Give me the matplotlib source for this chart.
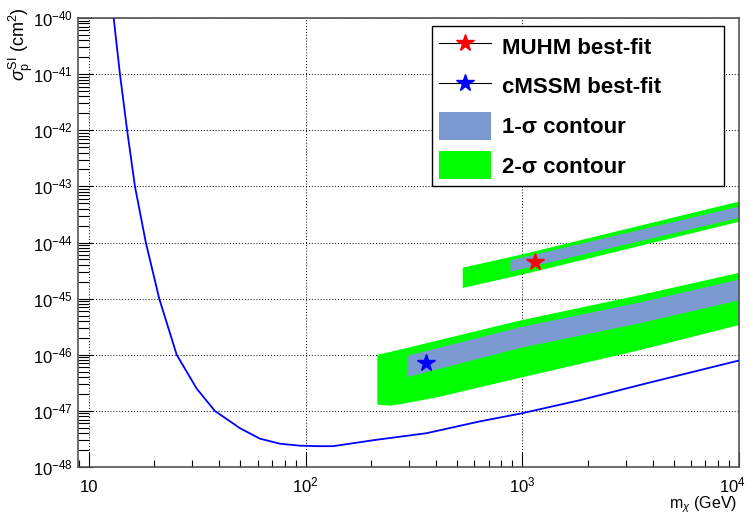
import matplotlib
matplotlib.use("Agg")
import matplotlib.pyplot as plt
from matplotlib.lines import Line2D
from matplotlib.patches import Patch
from matplotlib.transforms import ScaledTranslation
from matplotlib.ticker import FixedLocator, LogLocator, NullFormatter, FixedFormatter

plt.rcParams['font.family'] = ['Liberation Sans', 'DejaVu Sans']
plt.rcParams['mathtext.fontset'] = 'custom'
plt.rcParams['mathtext.rm'] = 'Liberation Sans'
plt.rcParams['mathtext.it'] = 'Liberation Sans:italic'
plt.rcParams['mathtext.bf'] = 'Liberation Sans:bold'

# ---------------- data ----------------
# experimental exclusion limit (blue curve)
limit_mass = [13.0, 13.9, 15.0, 16.3, 18.3, 21.1, 25.4, 31.4, 38.1, 49.8, 61.5,
              76, 94, 115, 134, 205, 361, 637, 974, 1845, 3748, 10000]
limit_sigma = [1.0e-40, 1.0e-41, 1.0e-42, 1.0e-43, 1.0e-44, 1.0e-45, 1.0e-46,
               2.5e-47, 1.0e-47, 4.9e-48, 3.2e-48, 2.6e-48, 2.4e-48, 2.35e-48,
               2.35e-48, 3.0e-48, 4.0e-48, 6.5e-48, 8.9e-48, 1.55e-47, 3.1e-47, 7.9e-47]

# cMSSM contours
cmssm_2s_mass = [213, 245, 292, 402, 975, 3370, 10000]
cmssm_2s_low = [1.32e-47, 1.26e-47, 1.41e-47, 1.78e-47, 3.98e-47, 1.20e-46, 3.47e-46]
cmssm_2s_high = [1.02e-46, 1.15e-46, 1.35e-46, 1.82e-46, 4.17e-46, 1.15e-45, 2.95e-45]
cmssm_1s_mass = [292, 975, 3370, 10000]
cmssm_1s_low = [4.07e-47, 1.35e-46, 3.63e-46, 9.55e-46]
cmssm_1s_high = [9.77e-47, 3.16e-46, 8.51e-46, 2.24e-45]

# MUHM contours
muhm_2s_mass = [528, 1000, 10000]
muhm_2s_low = [1.58e-45, 2.75e-45, 2.40e-44]
muhm_2s_high = [3.63e-45, 6.31e-45, 5.50e-44]
muhm_1s_mass = [877, 10000]
muhm_1s_low = [3.09e-45, 2.82e-44]
muhm_1s_high = [4.90e-45, 4.47e-44]

# best-fit points
muhm_best = (1143, 4.5e-45)
cmssm_best = (358, 7.2e-47)

x_ticks = [10, 100, 1000, 10000]
x_ticklabels = ['10', r'$10^{2}$', r'$10^{3}$', r'$10^{4}$']
y_ticks = [1e-48, 1e-47, 1e-46, 1e-45, 1e-44, 1e-43, 1e-42, 1e-41, 1e-40]
y_ticklabels = [r'$10^{-48}$', r'$10^{-47}$', r'$10^{-46}$', r'$10^{-45}$', r'$10^{-44}$',
                r'$10^{-43}$', r'$10^{-42}$', r'$10^{-41}$', r'$10^{-40}$']

legend_labels = ['MUHM best-fit', 'cMSSM best-fit', '1-\u03c3 contour', '2-\u03c3 contour']

# ---------------- style ----------------
c1 = '#7b99d1'
c2 = '#00ff00'

fig = plt.figure(figsize=(7.5, 5.14), dpi=100)
ax = fig.add_axes([78 / 750, 47 / 514, 661 / 750, 449 / 514])
ax.set_xscale('log')
ax.set_yscale('log')
ax.set_xlim(8.9, 1e4)
ax.set_ylim(1e-48, 1e-40)

ax.set_axisbelow(True)
ax.grid(True, which='major', color='k', linestyle=(0, (1, 2)), linewidth=0.7)

ax.fill_between(cmssm_2s_mass, cmssm_2s_low, cmssm_2s_high, color=c2, lw=0, zorder=2)
ax.fill_between(cmssm_1s_mass, cmssm_1s_low, cmssm_1s_high, color=c1, lw=0, zorder=2.1)
ax.fill_between(muhm_2s_mass, muhm_2s_low, muhm_2s_high, color=c2, lw=0, zorder=2)
ax.fill_between(muhm_1s_mass, muhm_1s_low, muhm_1s_high, color=c1, lw=0, zorder=2.1)

ax.plot(limit_mass, limit_sigma, color='#0000ff', lw=1.3, zorder=3)

ax.plot([muhm_best[0]], [muhm_best[1]], linestyle='none', marker='*', ms=13,
        mfc='red', mec='red', zorder=4)
ax.plot([cmssm_best[0]], [cmssm_best[1]], linestyle='none', marker='*', ms=13,
        mfc='#0000ff', mec='#0000ff', zorder=4)

# ticks
ax.xaxis.set_major_locator(FixedLocator(x_ticks))
ax.xaxis.set_major_formatter(FixedFormatter(x_ticklabels))
ax.xaxis.set_minor_locator(LogLocator(base=10, subs=range(2, 10), numticks=20))
ax.xaxis.set_minor_formatter(NullFormatter())
ax.yaxis.set_major_locator(FixedLocator(y_ticks))
ax.yaxis.set_major_formatter(FixedFormatter(y_ticklabels))
ax.yaxis.set_minor_locator(LogLocator(base=10, subs=range(2, 10), numticks=20))
ax.yaxis.set_minor_formatter(NullFormatter())

ax.tick_params(axis='both', which='both', direction='in', top=False, right=False,
               color='k', width=0.8, labelsize=12)
ax.tick_params(axis='x', which='major', length=11, pad=18)
ax.tick_params(axis='x', which='minor', length=5)
ax.tick_params(axis='y', which='major', length=11, pad=3.5)
ax.tick_params(axis='y', which='minor', length=8)
xlabs = ax.get_xticklabels()
for lab in xlabs:
    lab.set_verticalalignment('baseline')
# keep the last label inside the canvas (as ROOT does)
xlabs[-1].set_transform(xlabs[-1].get_transform()
                        + ScaledTranslation(-5 / 72, 0, fig.dpi_scale_trans))

for sp in ax.spines.values():
    sp.set_color('#555555')
    sp.set_linewidth(1.2)

ax.set_xlabel(r'm$_{\chi}$ (GeV)', fontsize=11.5, loc='right')
ax.xaxis.set_label_coords((737 - 78) / 661, (467 - 494) / 449)
ax.set_ylabel(r'$\sigma_{\mathrm{p}}^{\mathrm{SI}}$ (cm$^{2}$)', fontsize=13, loc='top')
ax.yaxis.set_label_coords((35 - 78) / 661, (467 - 7) / 449)

handles = [
    Line2D([], [], color='k', lw=0.8, marker='*', ms=13, mfc='red', mec='red'),
    Line2D([], [], color='k', lw=0.8, marker='*', ms=13, mfc='#0000ff', mec='#0000ff'),
    Patch(facecolor=c1, edgecolor='none'),
    Patch(facecolor=c2, edgecolor='none'),
]
leg = ax.legend(handles, legend_labels, loc='upper left',
                bbox_to_anchor=(432 / 750, 329 / 514, 292 / 750, 159 / 514),
                bbox_transform=fig.transFigure, mode='expand', borderaxespad=0,
                prop={'family': 'Liberation Sans', 'weight': 'bold', 'size': 16},
                handlelength=2.34, handleheight=1.56, labelspacing=0.52,
                handletextpad=0.5, borderpad=0.3, fancybox=False,
                framealpha=1, edgecolor='k', numpoints=1)
leg.get_frame().set_linewidth(1.0)
leg.set_zorder(10)

fig.savefig('out.png', dpi=100)
